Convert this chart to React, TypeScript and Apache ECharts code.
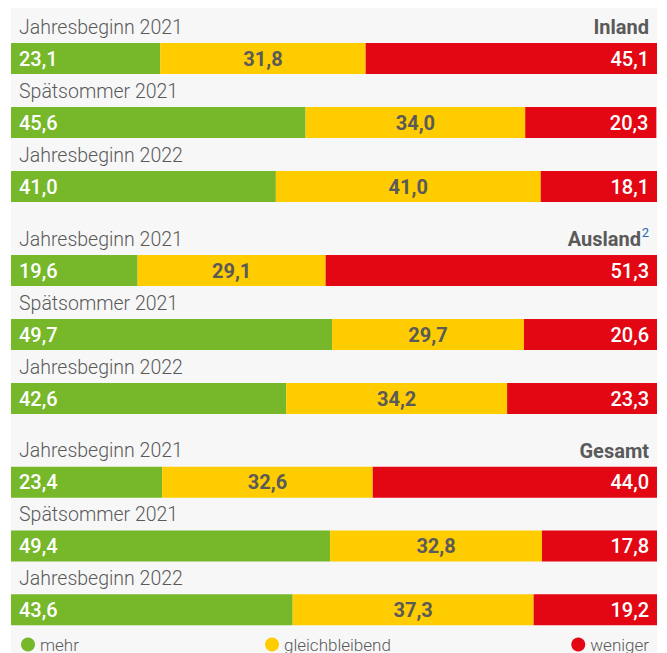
import React, { useEffect, useRef } from "react";
import * as echarts from "echarts";

const rowLabels = ["Jahresbeginn 2021", "Spätsommer 2021", "Jahresbeginn 2022"];
const groupTitles = ["Inland", "Ausland", "Gesamt"];
const seriesNames = ["mehr", "gleichbleibend", "weniger"];
const mehr = [23.1, 45.6, 41.0, 19.6, 49.7, 42.6, 23.4, 49.4, 43.6];
const gleich = [31.8, 34.0, 41.0, 29.1, 29.7, 34.2, 32.6, 32.8, 37.3];
const weniger = [45.1, 20.3, 18.1, 51.3, 20.6, 23.3, 44.0, 17.8, 19.2];

const COLORS = ["#76b82a", "#ffcc00", "#e30613"];
const FONT = "Roboto";
const GRAY = "#5a5a5a";

const fmt = (v: number) => v.toFixed(1).replace(".", ",");

export default function App() {
  const ref = useRef<HTMLDivElement>(null);
  useEffect(() => {
    if (!ref.current) return;
    const chart = echarts.init(ref.current, null, { renderer: "svg" });
    const gridTops = [26.5, 238.5, 450.5];
    const grids = gridTops.map((t) => ({ left: 11, width: 646, top: t, height: 192 }));
    const xAxes = gridTops.map((_, i) => ({
      type: "value",
      gridIndex: i,
      min: 0,
      max: 100,
      show: false,
    }));
    const yAxes = gridTops.map((_, i) => ({
      type: "category",
      gridIndex: i,
      inverse: true,
      data: rowLabels,
      axisLine: { show: false },
      axisTick: { show: false },
      splitLine: { show: false },
      axisLabel: {
        inside: true,
        interval: 0,
        hideOverlap: false,
        margin: 8,
        verticalAlign: "middle",
        formatter: (v: string) => `{t|${v}}\n{s| }`,
        rich: {
          t: { color: GRAY, fontFamily: FONT, fontSize: 19.5, fontWeight: 300, lineHeight: 24 },
          s: { fontSize: 10, height: 63, lineHeight: 63 },
        },
      },
      z: 5,
    }));
    const valueSets = [mehr, gleich, weniger];
    const series: any[] = [];
    gridTops.forEach((_, g) => {
      valueSets.forEach((vals, s) => {
        series.push({
          type: "bar",
          name: seriesNames[s],
          stack: "total" + g,
          xAxisIndex: g,
          yAxisIndex: g,
          barWidth: 31,
          data: vals.slice(g * 3, g * 3 + 3),
          itemStyle: { color: COLORS[s] },
          label: {
            show: true,
            position: s === 0 ? "insideLeft" : s === 1 ? "inside" : "insideRight",
            distance: 8,
            formatter: (p: any) => fmt(p.value),
            color: s === 1 ? GRAY : "#ffffff",
            fontFamily: FONT,
            fontSize: 20,
            fontWeight: s === 1 ? "bold" : 500,
          },
        });
      });
    });
    const titleStyle = { fill: GRAY, fontFamily: FONT, fontSize: 20, fontWeight: "bold", textAlign: "right", textVerticalAlign: "middle" };
    chart.setOption({
      animation: false,
      backgroundColor: "#ffffff",
      grid: grids,
      xAxis: xAxes,
      yAxis: yAxes,
      series,
      legend: [
        { left: 21, top: 636, data: [seriesNames[0]] },
        { left: 265, top: 636, data: [seriesNames[1]] },
        { right: 18, top: 636, data: [seriesNames[2]] },
      ].map((l) => ({
        ...l,
        icon: "circle",
        itemWidth: 14,
        itemHeight: 14,
        padding: 0,
        selectedMode: false,
        textStyle: { color: GRAY, fontFamily: FONT, fontSize: 17, fontWeight: 300 },
      })),
      graphic: [
        { type: "rect", z: -10, silent: true, shape: { x: 11, y: 8, width: 646, height: 645 }, style: { fill: "#f7f7f7" } },
        { type: "text", x: 649, y: 27, style: { ...titleStyle, text: groupTitles[0] } },
        { type: "text", x: 641, y: 239, style: { ...titleStyle, text: groupTitles[1] } },
        { type: "text", x: 649, y: 232, style: { fill: "#2a6ab0", fontFamily: FONT, fontSize: 13, textAlign: "right", textVerticalAlign: "middle", text: "2" } },
        { type: "text", x: 649, y: 451, style: { ...titleStyle, text: groupTitles[2] } },
      ],
    });
    return () => chart.dispose();
  }, []);
  return (
    <div style={{ position: "absolute", left: 0, top: 0, width: 667, height: 653, background: "#fff" }}>
      <div ref={ref} style={{ width: 667, height: 653 }} />
    </div>
  );
}
